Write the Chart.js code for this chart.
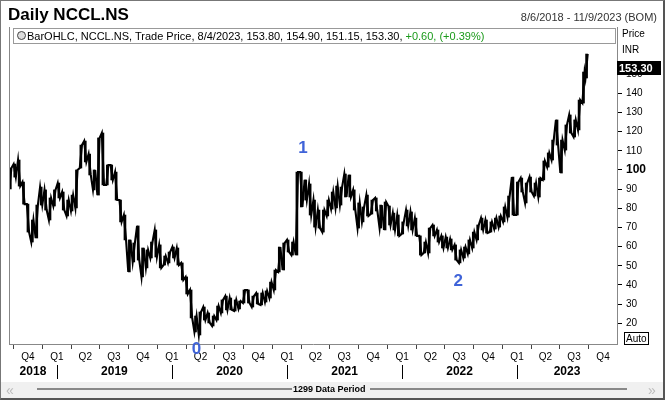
<!DOCTYPE html>
<html><head><meta charset="utf-8">
<script src="https://cdn.jsdelivr.net/npm/chart.js@4.4.1/dist/chart.umd.min.js"></script>
<style>
html,body{margin:0;padding:0;background:#fff;}
#wrap{position:relative;width:665px;height:400px;overflow:hidden;font-family:Arial,'Liberation Sans',sans-serif;background:#fff;}
canvas{position:absolute;left:0;top:0;}
.t{position:absolute;white-space:nowrap;line-height:1;}
#frame{position:absolute;left:0;top:0;width:665px;height:400px;box-sizing:border-box;border-left:1px solid #777;border-top:1px solid #777;border-right:2px solid #555;border-bottom:2px solid #555;pointer-events:none;}
</style></head><body>
<div id="wrap">
<div style="position:absolute;left:1px;top:382px;width:662px;height:16px;background:#f0f0f0;"></div>
<canvas id="c" width="665" height="400"></canvas>
<div class="t" style="left:8px;top:6px;font-size:17px;font-weight:bold;">Daily NCCL.NS</div>
<div class="t" style="right:8px;top:12px;font-size:11px;color:#333;">8/6/2018 - 11/9/2023 (BOM)</div>
<div style="position:absolute;left:13px;top:28px;width:601px;height:14px;border:1px solid #999;background:#fff;"></div>
<div style="position:absolute;left:17px;top:31px;width:7px;height:7px;border:1px solid #444;border-radius:50%;background:#ddd;"></div>
<div class="t" id="legend" style="left:27px;top:31px;font-size:11px;color:#000;"></div>
<div class="t" style="left:622px;top:29px;font-size:10px;">Price</div>
<div class="t" style="left:622px;top:45px;font-size:10px;">INR</div>
<div class="t" style="left:624px;top:332px;font-size:10px;border:1px solid #000;padding:1px 1px 0 1px;">Auto</div>
<div class="t" style="left:6px;top:383px;font-size:14px;color:#bbb;">&laquo;</div>
<div class="t" style="left:648px;top:383px;font-size:14px;color:#bbb;">&raquo;</div>
<div style="position:absolute;left:37px;top:388px;width:255px;height:2px;background:#888;"></div>
<div style="position:absolute;left:370px;top:388px;width:257px;height:2px;background:#888;"></div>
<div class="t" style="left:293px;top:385px;font-size:9px;font-weight:bold;">1299 Data Period</div>
<div id="frame"></div>
</div>
<script>
const startDate = '2018-08-06';
const lows = [
 90.1,96.3,91.6,82.2,67.6,62.4,64.5,81.7,79.1,73.9,
 81.2,85.4,79.1,76.0,78.6,80.2,101.0,104.2,97.4,89.6,
 86.9,92.2,92.2,94.8,84.3,72.9,63.5,46.8,52.0,53.0,
 44.2,48.9,54.1,54.6,48.9,50.4,51.5,54.1,50.4,42.6,
 35.3,22.8,15.5,13.9,21.7,20.2,18.6,21.7,25.4,27.0,
 27.0,26.4,27.5,30.6,30.6,28.5,30.1,29.6,31.1,33.2,
 37.4,46.8,47.8,57.2,55.6,55.6,80.7,84.3,76.5,70.2,
 69.7,67.6,76.0,79.6,80.2,81.7,85.9,85.9,79.1,69.7,
 72.9,76.0,77.0,78.6,69.7,68.7,71.3,68.7,65.6,66.6,
 70.8,68.7,65.6,55.6,56.7,56.7,65.6,62.4,59.3,59.3,
 58.3,53.0,51.5,54.1,56.2,59.3,63.5,68.7,67.1,67.6,
 69.2,70.2,72.9,75.4,76.5,76.5,88.5,82.8,88.5,86.4,
 85.9,94.8,101.5,105.2,113.0,98.4,110.4,119.3,117.2,120.9,
 134.9,148.0];
const highs = [
 101.0,103.1,105.2,93.7,82.2,73.9,81.7,91.1,89.6,85.4,
 89.6,93.2,88.5,84.3,86.9,100.0,113.0,115.1,108.3,100.0,
 116.7,119.3,102.6,102.6,98.9,84.3,76.5,63.5,61.9,70.8,
 59.3,58.3,62.4,68.7,60.9,55.1,57.2,59.8,59.3,51.5,
 44.2,37.4,23.8,25.9,28.5,25.4,23.8,29.0,32.2,34.2,
 33.2,32.2,31.6,37.4,37.4,34.2,35.8,35.8,36.9,41.5,
 47.8,59.8,61.9,63.5,62.4,98.9,98.9,94.8,92.7,84.3,
 79.1,79.1,84.3,88.5,91.6,91.1,97.9,97.4,89.6,82.8,
 80.7,86.9,84.3,85.4,81.7,83.3,81.2,77.5,76.5,72.9,
 79.1,78.1,74.9,65.6,62.4,69.7,71.3,68.7,65.6,65.0,
 64.0,60.9,58.3,59.8,63.5,67.6,71.3,74.9,73.9,72.9,
 74.9,76.0,80.7,86.4,96.3,93.7,95.8,93.2,96.3,93.2,
 95.8,104.7,108.9,115.6,126.1,115.6,123.5,128.7,126.1,136.5,
 151.1,160.5];
const lastBar = {date:'8/4/2023', open:'153.80', high:'154.90', low:'151.15', close:153.30, change:'+0.60', pct:'(+0.39%)'};
const quarterDates = ['2018-10-01','2019-01-01','2019-04-01','2019-07-01','2019-10-01','2020-01-01','2020-04-01','2020-07-01','2020-10-01','2021-01-01','2021-04-01','2021-07-01','2021-10-01','2022-01-01','2022-04-01','2022-07-01','2022-10-01','2023-01-01','2023-04-01','2023-07-01','2023-10-01'];
const quarterLabels = ['Q4','Q1','Q2','Q3','Q4','Q1','Q2','Q3','Q4','Q1','Q2','Q3','Q4','Q1','Q2','Q3','Q4','Q1','Q2','Q3','Q4'];
const yearDates = ['2018-01-01','2019-01-01','2020-01-01','2021-01-01','2022-01-01','2023-01-01','2024-01-01'];
const yearLabels = ['2018','2019','2020','2021','2022','2023'];
const yTicks = [20,30,40,50,60,70,80,90,100,110,120,130,140,150];
const waveLabels = ['0','1','2'];
const waveDates = ['2020-03-19','2021-02-20','2022-06-28'];
const wavePrices = [6.6,111.5,41.8];

// ---- helpers ----
const DAY = 864e5;
const toWeek = d => (Date.parse(d) - Date.parse(startDate)) / (7*DAY);
const sampleWeeks = lows.map((_, i) => i < 131 ? i*2 : 261.4);
const quarterWeeks = quarterDates.map(toWeek);
// each sampled low/high range is traced as a jagged stroke (high->low or low->high following the trend)
const trace = [];
lows.forEach((lo, i) => {
  const hi = highs[i];
  const mid = (lo + hi) / 2;
  const nextMid = i < lows.length - 1 ? (lows[i+1] + highs[i+1]) / 2 : mid;
  const rising = nextMid >= mid;
  const w = sampleWeeks[i];
  trace.push({x: w - 0.5, y: rising ? lo : hi});
  trace.push({x: w + 0.5, y: rising ? hi : lo});
});
const barData = sampleWeeks.map((w, i) => ({x: w, y: [lows[i], highs[i]]}));

document.getElementById('legend').innerHTML =
  'BarOHLC, NCCL.NS, Trade Price, ' + lastBar.date + ', ' + lastBar.open + ', ' + lastBar.high + ', ' + lastBar.low + ', ' + lastBar.close.toFixed(2) +
  ', <span style="color:#1a9a1a">' + lastBar.change + ', ' + lastBar.pct + '</span>';

const decor = {
  id: 'decor',
  afterDraw(chart) {
    const {ctx, chartArea: a, scales: {x, y}} = chart;
    ctx.save();
    ctx.strokeStyle = '#888'; ctx.lineWidth = 1;
    ctx.beginPath(); ctx.moveTo(a.left + 0.5, a.top); ctx.lineTo(a.left + 0.5, a.bottom); ctx.stroke();
    ctx.fillStyle = '#000'; ctx.strokeStyle = '#000';
    ctx.font = 'bold 12px Arial, "Liberation Sans", sans-serif';
    ctx.textAlign = 'center'; ctx.textBaseline = 'middle';
    for (let i = 0; i < yearLabels.length; i++) {
      const s = Math.max(x.getPixelForValue(toWeek(yearDates[i])), a.left);
      const e = Math.min(x.getPixelForValue(toWeek(yearDates[i+1])), a.right);
      ctx.fillText(yearLabels[i], (s + e) / 2, 372);
      if (i > 0) {
        const px = Math.round(s) + 0.5;
        ctx.beginPath(); ctx.moveTo(px, 365); ctx.lineTo(px, 379); ctx.stroke();
      }
    }
    const py = y.getPixelForValue(lastBar.close);
    ctx.fillStyle = '#000';
    ctx.fillRect(a.right, Math.round(py) - 7, 44, 14);
    ctx.fillStyle = '#fff';
    ctx.font = 'bold 11px Arial, "Liberation Sans", sans-serif';
    ctx.textAlign = 'left';
    ctx.fillText(lastBar.close.toFixed(2), a.right + 2, Math.round(py) + 0.5);
    ctx.fillStyle = '#3f63d8';
    ctx.font = 'bold 17px Arial, "Liberation Sans", sans-serif';
    ctx.textAlign = 'center';
    waveLabels.forEach((t, i) => {
      ctx.fillText(t, x.getPixelForValue(toWeek(waveDates[i])), y.getPixelForValue(wavePrices[i]));
    });
    ctx.restore();
  }
};

new Chart(document.getElementById('c'), {
  type: 'bar',
  data: { datasets: [
    { type: 'line', data: trace, borderColor: '#000', borderWidth: 2.1, pointRadius: 0, tension: 0, fill: false },
    { data: barData, backgroundColor: '#000', borderWidth: 0, barThickness: 2, grouped: false }
  ] },
  options: {
    responsive: false, animation: false, devicePixelRatio: 1,
    layout: { padding: { left: 9, top: 27, right: 0, bottom: 0 } },
    plugins: { legend: { display: false }, tooltip: { enabled: false } },
    scales: {
      x: {
        type: 'linear', min: -0.6, max: 275.2, offset: false,
        afterBuildTicks: s => { s.ticks = quarterWeeks.map(v => ({ value: v })); },
        afterFit: s => { s.height = 56; },
        grid: { drawOnChartArea: false, drawTicks: true, tickLength: 5, color: '#444' },
        border: { display: true, color: '#888' },
        ticks: { autoSkip: false, maxRotation: 0, padding: 2, color: '#000',
          font: { size: 10, family: 'Arial, "Liberation Sans", sans-serif' },
          callback: (v, i) => quarterLabels[i] }
      },
      y: {
        type: 'linear', position: 'right', min: 9.2, max: 174.6,
        afterBuildTicks: s => { s.ticks = yTicks.map(v => ({ value: v })); },
        afterFit: s => { s.width = 48; },
        grid: { drawOnChartArea: false, drawTicks: true, tickLength: 5, color: '#000' },
        border: { display: true, color: '#888' },
        ticks: { padding: 4, color: '#000',
          font: c => (c.tick && c.tick.value === 100) ? { size: 12, weight: 'bold', family: 'Arial, "Liberation Sans", sans-serif' } : { size: 10, family: 'Arial, "Liberation Sans", sans-serif' },
          callback: v => String(v) }
      }
    }
  },
  plugins: [decor]
});
</script>
</body></html>
